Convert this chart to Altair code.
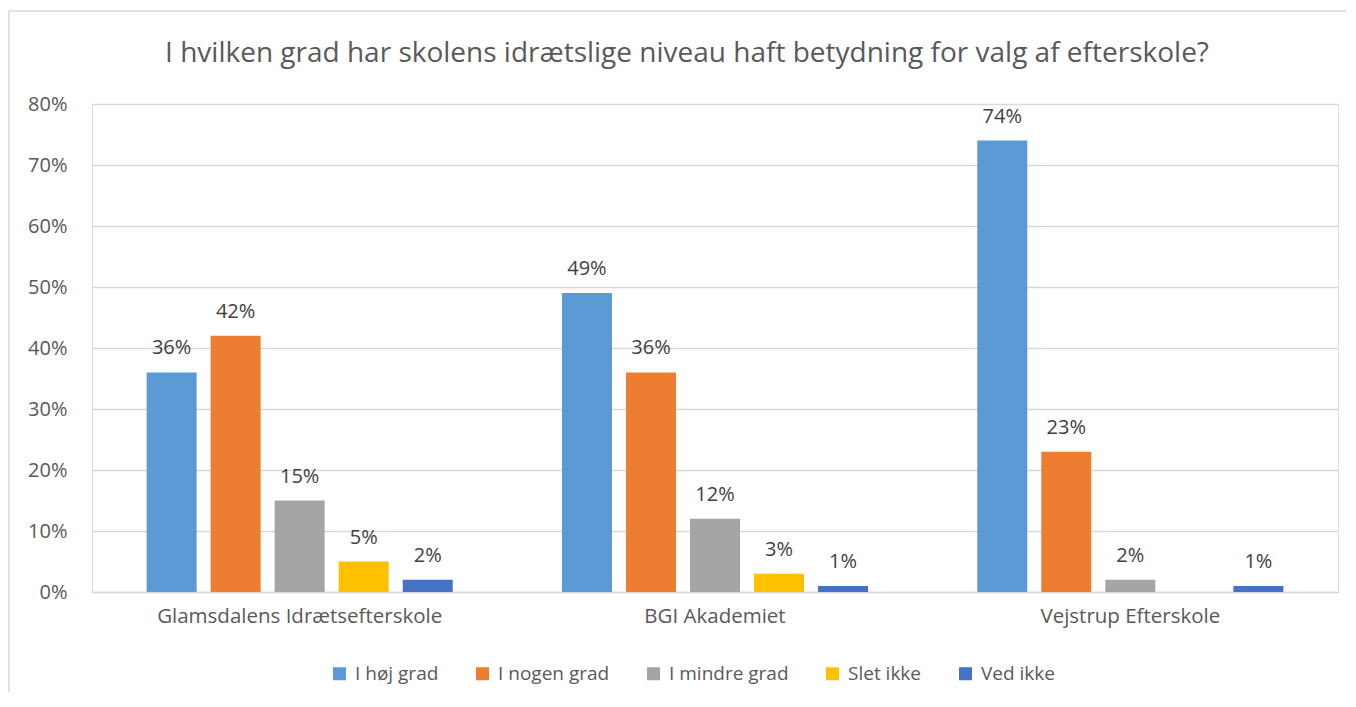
import altair as alt
import pandas as pd

title_text = "I hvilken grad har skolens idrætslige niveau haft betydning for valg af efterskole?"
categories = ["Glamsdalens Idrætsefterskole", "BGI Akademiet", "Vejstrup Efterskole"]
series = ["I høj grad", "I nogen grad", "I mindre grad", "Slet ikke", "Ved ikke"]
colors = ["#5B9BD5", "#ED7D31", "#A5A5A5", "#FFC000", "#4472C4"]

hoej_grad = [0.36, 0.49, 0.74]
nogen_grad = [0.42, 0.36, 0.23]
mindre_grad = [0.15, 0.12, 0.02]
slet_ikke = [0.05, 0.03, None]
ved_ikke = [0.02, 0.01, 0.01]

y_ticks = [0, 0.1, 0.2, 0.3, 0.4, 0.5, 0.6, 0.7, 0.8]

rows = []
for s, vals in zip(series, [hoej_grad, nogen_grad, mindre_grad, slet_ikke, ved_ikke]):
    for c, v in zip(categories, vals):
        if v is not None:
            rows.append({"skole": c, "svar": s, "andel": v})
df = pd.DataFrame(rows)

FONT = "Open Sans"
W, H = 1246, 488

x_enc = alt.X("skole:N", sort=categories, title=None,
              scale=alt.Scale(paddingInner=0.263, paddingOuter=0.1315),
              axis=alt.Axis(labelAngle=0, labelFontSize=20.5, labelColor="#595959",
                            labelFont=FONT, labelPadding=14, labelLimit=0, ticks=False,
                            domainColor="#D9D9D9", domainWidth=1.5, grid=False))
xo_enc = alt.XOffset("svar:N", sort=series,
                     scale=alt.Scale(domain=series, paddingInner=0.219, paddingOuter=0))
y_enc = alt.Y("andel:Q", title=None,
              scale=alt.Scale(domain=[0, 0.8], nice=False),
              axis=alt.Axis(values=y_ticks, format=".0%", labelFontSize=20,
                            labelColor="#595959", labelFont=FONT, labelPadding=25,
                            ticks=False, domain=False, gridColor="#D9D9D9",
                            gridWidth=1.5))

base = alt.Chart(df)

bars = base.mark_bar().encode(
    x=x_enc, xOffset=xo_enc, y=y_enc,
    color=alt.Color("svar:N", sort=series,
                    scale=alt.Scale(domain=series, range=colors),
                    legend=alt.Legend(title=None, orient="none", direction="horizontal",
                                      legendX=238, legendY=560,
                                      symbolType="square", symbolSize=169,
                                      symbolStrokeWidth=0,
                                      labelFontSize=19, labelColor="#595959",
                                      labelFont=FONT, labelOffset=6,
                                      columnPadding=34, padding=0)),
)

labels = base.mark_text(baseline="alphabetic", dy=-18, fontSize=20,
                        color="#404040", font=FONT).encode(
    x=alt.X("skole:N", sort=categories),
    xOffset=alt.XOffset("svar:N", sort=series),
    y=alt.Y("andel:Q"),
    text=alt.Text("andel:Q", format=".0%"),
)

border = alt.Chart(pd.DataFrame({"b": [0]})).mark_rect(
    fill=None, stroke="#D9D9D9", strokeWidth=1.5
).encode(x=alt.value(-83), x2=alt.value(W + 40), y=alt.value(-93), y2=alt.value(H + 140))

title = alt.Chart(pd.DataFrame({"t": [title_text]})).mark_text(
    fontSize=28, font=FONT, color="#595959", align="center", baseline="alphabetic"
).encode(text="t:N", x=alt.value(595), y=alt.value(-42))

chart = alt.layer(border, bars, labels, title).properties(
    width=W, height=H,
    autosize=alt.AutoSizeParams(type="none"),
    padding={"left": 84, "top": 96, "right": 8, "bottom": 100},
).configure_view(stroke=None).configure(background="white")

chart.save("out.html", embed_options={"renderer": "svg", "actions": False})
